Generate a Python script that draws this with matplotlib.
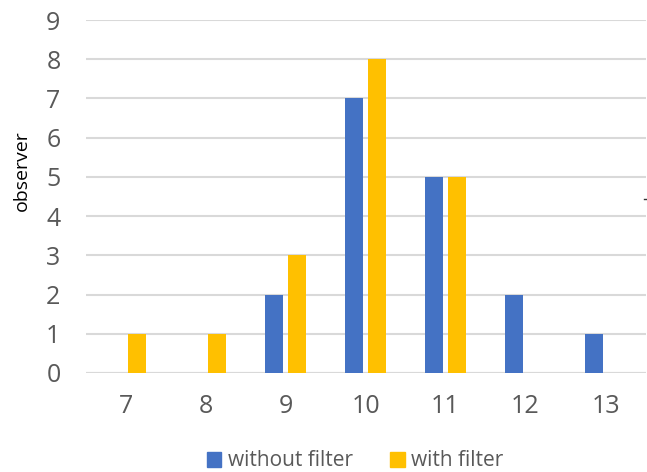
import matplotlib
matplotlib.use("Agg")
import matplotlib.pyplot as plt
import numpy as np
from matplotlib.patches import Patch

categories = ["7", "8", "9", "10", "11", "12", "13"]
without_filter = [0, 0, 2, 7, 5, 2, 1]
with_filter = [1, 1, 3, 8, 5, 0, 0]
series_names = ["without filter", "with filter"]
colors = ["#4472C4", "#FFC000"]

plt.rcParams['font.family'] = ['Open Sans', 'DejaVu Sans']

fig = plt.figure(figsize=(6.47, 4.72), dpi=100)
W, H = 647, 472
left, right = 85.5, 645.5
top, bottom = 20, 373
ax = fig.add_axes([left / W, 1 - bottom / H, (right - left) / W, (bottom - top) / H])

x = np.arange(len(categories))
bw = 0.225
gap = 0.06
ax.bar(x - (bw + gap) / 2, without_filter, bw, color=colors[0], zorder=3)
ax.bar(x + (bw + gap) / 2, with_filter, bw, color=colors[1], zorder=3)

ax.set_xlim(-0.5, len(categories) - 0.5)
ax.set_ylim(0, 9)
ax.set_yticks(range(0, 10))
ax.set_xticks(x)
ax.set_xticklabels(categories)
ax.grid(axis='y', color='#D9D9D9', linewidth=1.5, zorder=0)
for s in ax.spines.values():
    s.set_visible(False)
ax.axhline(0, color='#D9D9D9', linewidth=1.5, zorder=1)
ax.tick_params(axis='both', length=0, labelsize=18, labelcolor='#595959')
ax.tick_params(axis='y', pad=18)
ax.tick_params(axis='x', pad=15)
ax.set_ylabel("observer", fontsize=14, color='black')
ax.yaxis.set_label_coords(-0.097, 0.572)

handles = [Patch(color=c, label=n) for c, n in zip(colors, series_names)]
fig.legend(handles=handles, loc='center', bbox_to_anchor=(355 / W, 1 - 461 / H), ncol=2,
           frameon=False, fontsize=15, handlelength=0.7, handleheight=0.7,
           handletextpad=0.3, columnspacing=1.8, labelcolor='#595959')

fig.add_artist(plt.Line2D([644 / W, 647 / W], [1 - 199 / H, 1 - 199 / H], color='#333333', linewidth=1))

fig.savefig("out.png", dpi=100)
